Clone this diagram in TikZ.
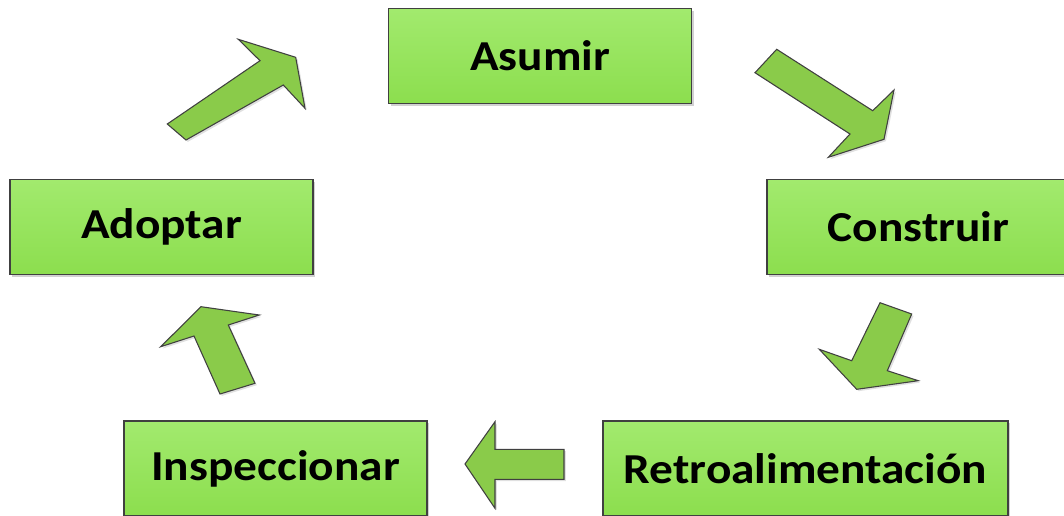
\documentclass[tikz,border=0pt]{standalone}
\usepackage{fontspec}
\setmainfont{Carlito}[FakeStretch=1.11]
\usetikzlibrary{shadows}
\definecolor{boxtop}{RGB}{162,234,110}
\definecolor{boxbot}{RGB}{140,222,78}
\definecolor{arrowfill}{RGB}{138,203,74}
\definecolor{edgegray}{RGB}{64,64,64}
\tikzset{
  stepbox/.style={draw=edgegray, line width=0.9pt, top color=boxtop, bottom color=boxbot,
    drop shadow={shadow xshift=1.6pt, shadow yshift=-1.6pt, fill=black, opacity=0.18},
    font=\fontsize{32}{38}\selectfont\bfseries, text=black, inner sep=0pt,
    minimum width=227.25pt, minimum height=71.25pt},
  blockarrow/.style={draw=edgegray, line width=0.8pt, fill=arrowfill, line join=miter,
    drop shadow={shadow xshift=1.4pt, shadow yshift=-1.4pt, fill=black, opacity=0.12}}
}
\begin{document}
\begin{tikzpicture}[x=0.75pt, y=-0.75pt]
\useasboundingbox (0,0) rectangle (1064,515);
\clip (0,0) rectangle (1064,515);
% boxes
\node[stepbox] (asumir) at (540,56) {Asumir};
\node[stepbox] (adoptar) at (161.5,227) {Adoptar};
\node[stepbox] (construir) at (918.5,227) {Construir};
\node[stepbox, minimum width=303.75pt] (retro) at (805.5,468.5) {Retroalimentación};
\node[stepbox] (inspec) at (275.5,468.5) {Inspeccionar};
% block arrows
\draw[blockarrow] (167.3,124) -- (186,140) -- (283.3,85) -- (305,108.3) -- (295.7,57.3)
  -- (238.3,39.3) -- (260,60.7) -- cycle;
\draw[blockarrow] (776.7,49.3) -- (755,72.7) -- (850,134) -- (828.3,157.3) -- (884,139.3)
  -- (894,90) -- (872.7,110.7) -- cycle;
\draw[blockarrow] (880,302.7) -- (911.7,314) -- (887.3,370.7) -- (918.3,380.7) -- (856.7,389.3)
  -- (819.3,349.3) -- (851.7,360.7) -- cycle;
\draw[blockarrow] (564,449.3) -- (564,479.3) -- (495,479.3) -- (495,508.3) -- (465,464)
  -- (495,421.7) -- (495,449.3) -- cycle;
\draw[blockarrow] (255,383.3) -- (220,394) -- (194,336) -- (160.7,346.7) -- (201,306.7)
  -- (259.3,315) -- (228.3,325) -- cycle;
\end{tikzpicture}
\end{document}
